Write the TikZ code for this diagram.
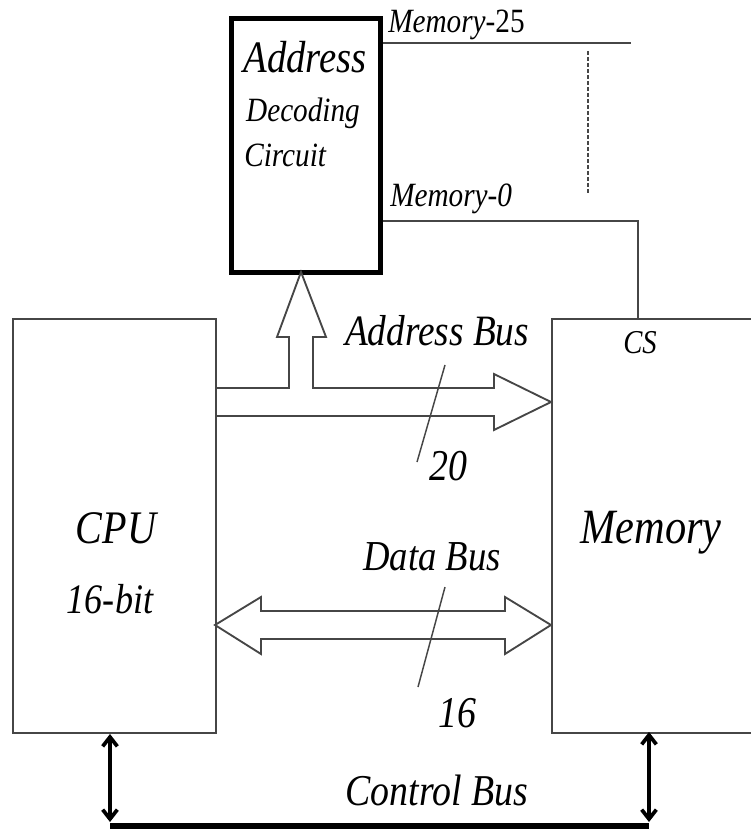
\documentclass[tikz,border=0pt]{standalone}
\usepackage{fontspec}
\usetikzlibrary{arrows.meta}
\newfontfamily\itf{Liberation Serif}[FakeStretch=0.86]
\newcommand{\fs}[1]{\fontsize{#1}{#1}\selectfont}
\definecolor{ln}{RGB}{70,70,70}
\begin{document}
\begin{tikzpicture}[x=0.75pt,y=-0.75pt,
  lbl/.style={inner sep=0,font=\itf\itshape},
  boxline/.style={draw=ln,line width=1.5pt},
  busline/.style={draw=ln,line width=1.4pt,line join=miter},
  wire/.style={draw=ln,line width=1.3pt},
  ctl/.style={line width=2.4pt,{Straight Barb[length=7pt,width=11pt]}-{Straight Barb[length=7pt,width=11pt]}}]
\useasboundingbox (0,0) rectangle (750,830);
% boxes
\node[boxline,minimum width=203*0.75pt,minimum height=414*0.75pt,anchor=north west,inner sep=0] (cpu) at (12,318) {};
\node[boxline,minimum width=210*0.75pt,minimum height=414*0.75pt,anchor=north west,inner sep=0] (mem) at (551,318) {};
\node[draw=black,line width=3.6pt,minimum width=149*0.75pt,minimum height=254*0.75pt,anchor=north west,inner sep=0] (adc) at (229,16) {};
% texts
\node[lbl,anchor=base,font=\itf\itshape\fs{33.75}] at (305,73) {Address};
\node[lbl,anchor=base,font=\itf\itshape\fs{25.5}] at (303,122) {Decoding};
\node[lbl,anchor=base west,font=\itf\itshape\fs{25.5}] at (244,167) {Circuit};
\node[lbl,anchor=base west,font=\itf\fs{25.5}] at (388,33) {\itshape Memory-\upshape 25};
\node[lbl,anchor=base west,font=\itf\itshape\fs{25.5}] at (390,207) {Memory-0};
\node[lbl,anchor=base,font=\itf\itshape\fs{32.5}] at (437,345) {Address Bus};
\node[lbl,anchor=base,font=\itf\itshape\fs{32}] at (432,570) {Data Bus};
\node[lbl,anchor=base,font=\itf\itshape\fs{33}] at (448,480) {20};
\node[lbl,anchor=base,font=\itf\itshape\fs{33}] at (457,727) {16};
\node[lbl,anchor=base,font=\itf\itshape\fs{25}] at (640,353) {CS};
\node[lbl,anchor=base,font=\itf\itshape\fs{35}] at (116,543) {CPU};
\node[lbl,anchor=base,font=\itf\itshape\fs{31.5}] at (110,613) {16-bit};
\node[lbl,anchor=base,font=\itf\itshape\fs{37}] at (651,543) {Memory};
\node[lbl,anchor=base,font=\itf\itshape\fs{33}] at (437,805) {Control Bus};
% decoder outputs
\coordinate (m25) at (631,43);
\draw[wire] (adc.east |- m25) -- (m25);
\draw[wire] (adc.east |- 0,221) -- (638,221) -- (638,318);
\draw[ln,line width=1.2pt,dash pattern=on 3pt off 1.5pt] (588,51) -- (588,194);
% address bus
\draw[busline] (215,388) -- (289,388) -- (289,337) -- (277,337) -- (301,272) -- (326,337) -- (313,337) -- (313,388) -- (494,388) -- (494,374) -- (551,402) -- (494,430) -- (494,416) -- (215,416);
\draw[ln,line width=1.1pt] (445,365) -- (417,462);
% data bus
\draw[busline] (261,611) -- (505,611) -- (505,597) -- (551,625) -- (505,654) -- (505,639) -- (261,639) -- (261,654) -- (215,625) -- (261,597) -- cycle;
\draw[ln,line width=1.1pt] (445,587) -- (418,687);
% control bus
\coordinate (c1) at (110,826);
\coordinate (c2) at (649,826);
\draw[line width=5pt] (c1) -- (c2);
\draw[ctl,line width=2.8pt] (cpu.south -| 110,0) -- (110,822);
\draw[ctl,line width=2.8pt] (649,732) -- (649,822);
\end{tikzpicture}
\end{document}
